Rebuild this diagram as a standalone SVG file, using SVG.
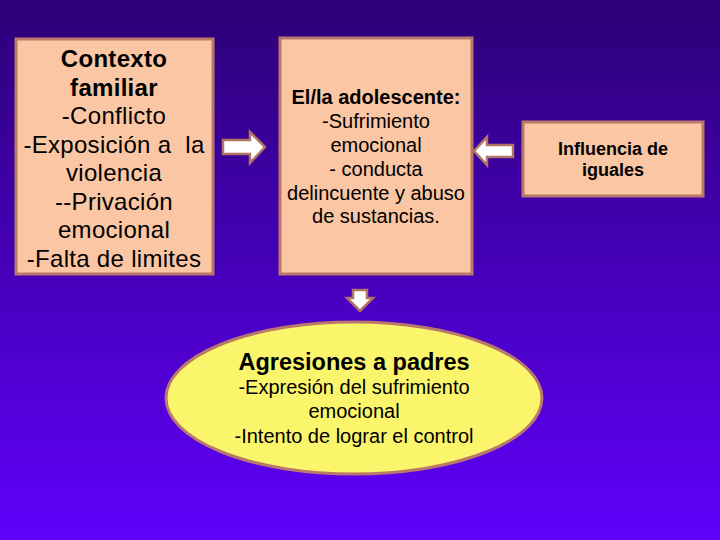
<svg xmlns="http://www.w3.org/2000/svg" width="720" height="540" viewBox="0 0 720 540">
<defs>
<linearGradient id="bg" x1="0" y1="0" x2="0" y2="1">
<stop offset="0" stop-color="#2c0076"/>
<stop offset="1" stop-color="#6000fc"/>
</linearGradient>
<style>
.box{fill:#fbc6a3;stroke:#b9786a;stroke-width:3}
.ell{fill:#fbf56c;stroke:#b9786a;stroke-width:3}
.arr{fill:#ffffff;stroke:#b07464;stroke-width:2.5;stroke-linejoin:miter}
text{font-family:"Liberation Sans",Arial,sans-serif;fill:#000;text-anchor:middle}
.b{font-weight:bold}
</style>
</defs>
<rect width="720" height="540" fill="url(#bg)"/>
<g id="contexto">
<rect class="box" x="16" y="39" width="197" height="235"/>
<text font-size="24" letter-spacing="0.3"><tspan class="b" x="114" y="67">Contexto</tspan><tspan class="b" x="114" y="95.5">familiar</tspan><tspan x="114" y="124">-Conflicto</tspan><tspan x="114" y="152.5" xml:space="preserve">-Exposición a  la</tspan><tspan x="114" y="181">violencia</tspan><tspan x="114" y="209.5">--Privación</tspan><tspan x="114" y="238">emocional</tspan><tspan x="114" y="266.5">-Falta de limites</tspan></text>
</g>
<g id="adolescente">
<rect class="box" x="280" y="38" width="192" height="236"/>
<text font-size="20"><tspan class="b" x="376" y="104">El/la adolescente:</tspan><tspan x="376" y="128">-Sufrimiento</tspan><tspan x="376" y="152">emocional</tspan><tspan x="376" y="176">- conducta</tspan><tspan x="376" y="200">delincuente y abuso</tspan><tspan x="376" y="223">de sustancias.</tspan></text>
</g>
<g id="iguales">
<rect class="box" x="523" y="122" width="180" height="74"/>
<text font-size="18" class="b"><tspan x="613" y="155">Influencia de</tspan><tspan x="613" y="176">iguales</tspan></text>
</g>
<g id="agresiones">
<ellipse class="ell" cx="354" cy="398" rx="188" ry="76"/>
<text font-size="20"><tspan class="b" x="354" y="370" font-size="23.5">Agresiones a padres</tspan><tspan x="354" y="394">-Expresión del sufrimiento</tspan><tspan x="354" y="418">emocional</tspan><tspan x="354" y="443">-Intento de lograr el control</tspan></text>
</g>
<g id="connectors">
<polygon class="arr" points="223,140 250,140 250,132 265,147 250,163 250,154 223,154"/>
<polygon class="arr" points="513,145 487,145 487,137 474,151 487,165 487,157 513,157"/>
<polygon class="arr" points="353,290 367,290 367,298 373,298 360,311 347,298 353,298"/>
</g>
</svg>
